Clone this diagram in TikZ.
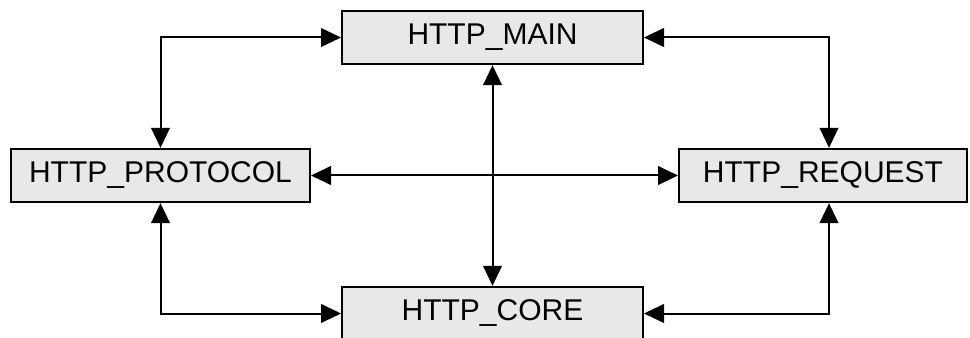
\documentclass[tikz,border=0pt]{standalone}
\usepackage{fontspec}
\setmainfont{Liberation Sans}
\usetikzlibrary{arrows.meta}
\begin{document}
\begin{tikzpicture}[x=0.75pt,y=-0.75pt,
  module/.style={draw=black, line width=1.5pt, fill=gray!18, inner sep=0pt,
    minimum height=40pt, font=\fontsize{22.5}{26}\selectfont},
  link/.style={line width=1.5pt, {Triangle[length=15pt,width=14pt]}-{Triangle[length=15pt,width=14pt]}}]
  \useasboundingbox (0,0) rectangle (970,338);

  \node[module, minimum width=225.75pt] (main)     at (492.5,37.5)  {HTTP\_MAIN};
  \node[module, minimum width=224.25pt] (protocol) at (160.5,175.5) {HTTP\_PROTOCOL};
  \node[module, minimum width=216pt]    (request)  at (823,175.5)   {HTTP\_REQUEST};
  \node[module, minimum width=225.75pt] (core)     at (492.5,313.5) {HTTP\_CORE};

  \coordinate (reqtop) at ([xshift=4.5pt]request.north);
  \coordinate (reqbot) at ([xshift=4.5pt]request.south);

  \draw[link] (protocol.north) |- (main.west);
  \draw[link] (main.east) -| (reqtop);
  \draw[link] (protocol.east) -- (request.west);
  \draw[link] (main.south) -- (core.north);
  \draw[link] (protocol.south) |- (core.west);
  \draw[link] (core.east) -| (reqbot);
\end{tikzpicture}
\end{document}
